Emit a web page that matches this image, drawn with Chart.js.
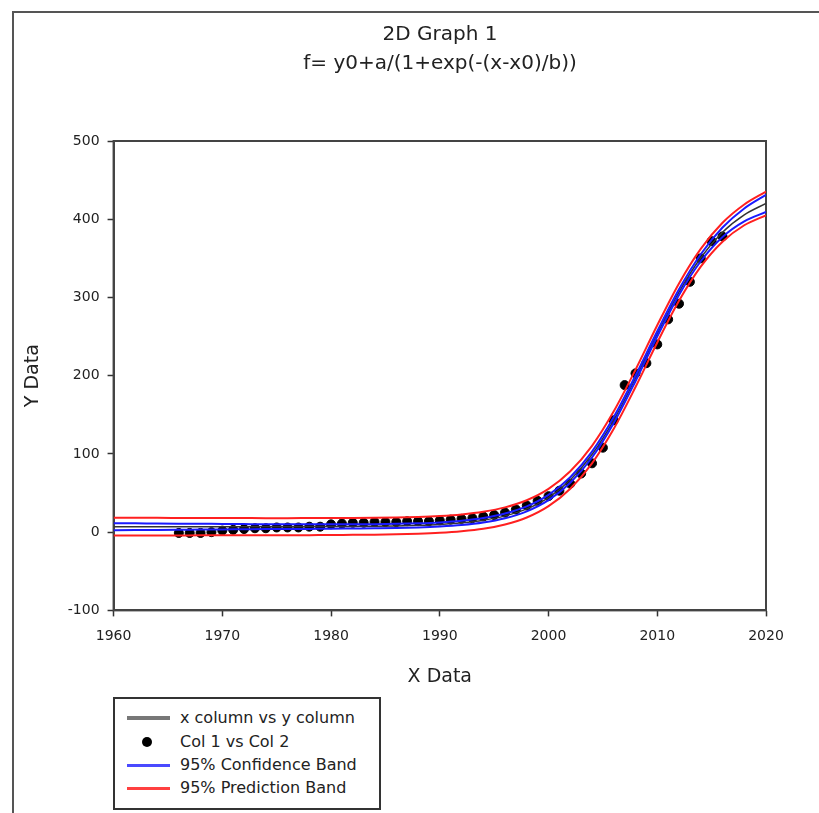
<!DOCTYPE html>
<html>
<head>
<meta charset="utf-8">
<script src="https://cdn.jsdelivr.net/npm/chart.js@4.4.1/dist/chart.umd.min.js"></script>
<style>
body{margin:0;background:#fff;font-family:"DejaVu Sans",Arial,sans-serif;}
#wrap{position:relative;width:819px;height:813px;overflow:hidden;}
#frame{position:absolute;left:12px;top:11px;width:900px;height:900px;border-left:2px solid #555;border-top:2px solid #555;}
#chart{position:absolute;left:0;top:0;}
.t{position:absolute;left:114px;width:652px;text-align:center;color:#222;font-size:20px;line-height:24px;}
#legend{position:absolute;left:113px;top:697px;width:264px;height:109px;border:2px solid #333;background:#fff;}
.row{position:absolute;left:0;width:100%;height:20px;line-height:20px;font-size:16px;color:#222;}
.row span.txt{position:absolute;left:65px;white-space:nowrap;}
.row .mk{position:absolute;}
</style>
</head>
<body>
<div id="wrap">
<div id="frame"></div>
<canvas id="chart" width="819" height="813"></canvas>
<div class="t" style="top:21px">2D Graph 1</div>
<div class="t" style="top:50px">f= y0+a/(1+exp(-(x-x0)/b))</div>
<div id="legend"></div>
</div>
<script>
// fitted curve + bands, every 2 years
const curveYears = [1960,1962,1964,1966,1968,1970,1972,1974,1976,1978,1980,1982,1984,1986,1988,1990,
    1992,1994,1996,1998,2000,2002,2004,2006,2008,2010,2012,2014,2016,2018,2020];
const fitValues = [7.0,7.0,7.0,7.0,7.0,7.0,7.0,7.0,7.0,7.1,7.2,7.4,7.6,8.0,8.7,9.9,
    11.9,15.2,20.8,29.8,44.3,66.7,99.2,143.3,196.6,253.5,306.9,350.8,383.4,405.6,420.2];
const confUpper = [11.5,11.3,11.1,10.9,10.7,10.5,10.3,10.1,10.0,10.0,10.0,10.1,10.2,10.6,11.3,12.5,
    14.6,18.0,23.8,33.0,47.7,70.3,103.0,147.1,200.2,256.9,310.5,355.3,389.4,413.8,431.2];
const confLower = [2.5,2.7,2.9,3.1,3.3,3.5,3.7,3.9,4.0,4.2,4.4,4.7,5.0,5.4,6.1,7.3,
    9.2,12.4,17.8,26.6,40.9,63.1,95.4,139.5,193.0,250.1,303.3,346.3,377.4,397.4,409.2];
const predUpper = [18.4,18.3,18.3,18.2,18.1,18.1,18.0,17.9,17.9,18.0,18.1,18.2,18.4,18.8,19.5,20.7,
    22.7,26.1,31.7,40.8,55.3,77.8,110.4,154.5,207.7,264.5,318.0,362.2,395.5,418.9,435.4];
const predLower = [-4.4,-4.3,-4.3,-4.2,-4.1,-4.1,-4.0,-3.9,-3.9,-3.8,-3.7,-3.4,-3.2,-2.8,-2.1,-0.9,
    1.1,4.3,9.9,18.8,33.3,55.6,88.0,132.1,185.5,242.5,295.8,339.4,371.3,392.3,405.0];

// measured points
const pointYears = [1966,1967,1968,1969,1970,1971,1972,1973,1974,1975,1976,1977,1978,1979,1980,
    1981,1982,1983,1984,1985,1986,1987,1988,1989,1990,1991,1992,1993,1994,1995,1996,1997,1998,
    1999,2000,2001,2002,2003,2004,2005,2006,2007,2008,2009,2010,2011,2012,2013,2014,2015,2016];
const pointValues = [-1,-1,-1,0,2,3,4,5,5,6,6,6,7,7,10,
    11,12,12,13,13,13,14,14,14,15,16,17,18,20,22,25,29,34,
    40,46,53,62,75,88,108,143,188,203,216,240,272,292,320,350,372,378];

const legendItems = ["x column vs y column","Col 1 vs Col 2","95% Confidence Band","95% Prediction Band"];

function pair(xs, ys) {
    return xs.map((x,i)=>({x:x, y:ys[i]}));
}

function curve(label, ys, color, width, order) {
    return {
        label:label, data:pair(curveYears, ys), showLine:true,
        borderColor:color, borderWidth:width, pointRadius:0,
        cubicInterpolationMode:"monotone", order:order
    };
}

// box round the plot
const frameBox = {
    id:"frameBox",
    beforeDatasetsDraw(chart) {
        const {ctx, chartArea:a} = chart;
        ctx.save();
        ctx.strokeStyle = "#444";
        ctx.lineWidth = 2;
        ctx.strokeRect(a.left, a.top, a.right-a.left, a.bottom-a.top);
        ctx.restore();
    }
};

Chart.defaults.font.family = '"DejaVu Sans", Arial, sans-serif';
Chart.defaults.color = "#222";

const chart = new Chart(document.getElementById("chart"), {
    type:"scatter",
    data:{
        datasets:[
            {label:legendItems[1], data:pair(pointYears, pointValues), backgroundColor:"#000",
             borderColor:"#000", pointRadius:4.5, order:5},
            curve(legendItems[0], fitValues, "#333", 1.5, 4),
            curve(legendItems[3], predUpper, "#ff2020", 2, 2),
            curve(legendItems[3], predLower, "#ff2020", 2, 2),
            curve(legendItems[2], confUpper, "#1a1aff", 2, 1),
            curve(legendItems[2], confLower, "#1a1aff", 2, 1)
        ]
    },
    options:{
        responsive:false,
        animation:false,
        layout:{padding:{left:10, right:53, top:141, bottom:125}},
        plugins:{legend:{display:false}, tooltip:{enabled:false}},
        scales:{
            x:{
                type:"linear", min:1960, max:2020,
                ticks:{stepSize:10, callback:v=>String(v), font:{size:14}, padding:12, maxRotation:0},
                grid:{drawOnChartArea:false, tickLength:6, tickColor:"#333", tickWidth:1.5},
                border:{color:"#444", width:2},
                title:{display:true, text:"X Data", font:{size:19}, padding:{top:8, bottom:0}}
            },
            y:{
                min:-100, max:500,
                ticks:{stepSize:100, callback:v=>String(v), font:{size:14}, padding:8},
                grid:{drawOnChartArea:false, tickLength:6, tickColor:"#333", tickWidth:1.5},
                border:{color:"#444", width:2},
                title:{display:true, text:"Y Data", font:{size:19}, padding:{top:12, bottom:15}}
            }
        }
    },
    plugins:[frameBox]
});

// legend box under the plot
const legend = document.getElementById("legend");
const marks = [
    {kind:"line", color:"#777", h:4},
    {kind:"dot", color:"#000"},
    {kind:"line", color:"#4a4aff", h:3},
    {kind:"line", color:"#ff4040", h:3}
];
const rowCenters = [19, 43, 66, 89];
legendItems.forEach((text,i)=>{
    const row = document.createElement("div");
    row.className = "row";
    row.style.top = (rowCenters[i]-10) + "px";
    const m = marks[i];
    const mk = document.createElement("div");
    mk.className = "mk";
    if (m.kind === "line") {
        mk.style.cssText = `left:12px;top:${10-m.h/2}px;width:43px;height:${m.h}px;background:${m.color};`;
    } else {
        mk.style.cssText = `left:27px;top:5px;width:10px;height:10px;border-radius:50%;background:${m.color};`;
    }
    const t = document.createElement("span");
    t.className = "txt";
    t.textContent = text;
    row.appendChild(mk);
    row.appendChild(t);
    legend.appendChild(row);
});
</script>
</body>
</html>
